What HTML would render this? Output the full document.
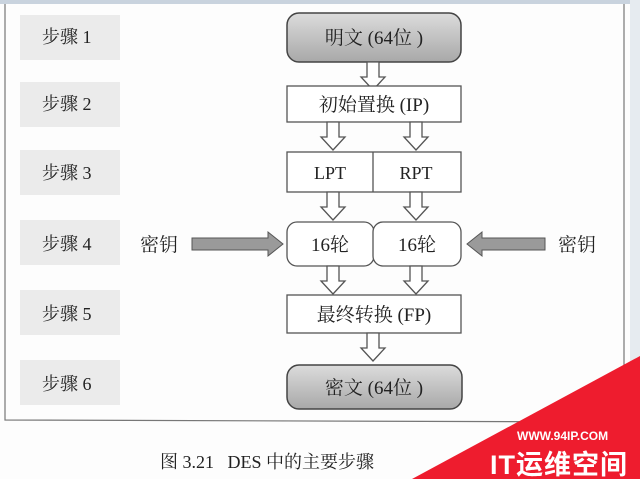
<!DOCTYPE html>
<html><head><meta charset="utf-8"><style>
body{margin:0;background:#fff;}
svg{display:block;}
text{font-family:"Liberation Serif","Noto Serif CJK SC",serif;fill:#222;}
</style></head><body>
<svg width="640" height="479" viewBox="0 0 640 479" xmlns="http://www.w3.org/2000/svg">
<defs>
<linearGradient id="g" x1="0" y1="0" x2="0" y2="1"><stop offset="0" stop-color="#dcdcdc"/><stop offset="1" stop-color="#a8a8a8"/></linearGradient>
<g id="da"><path d="M-6,0 L6,0 L6,15 L12,15 L0,28 L-12,15 L-6,15 Z" fill="#fff" stroke="#555" stroke-width="1.3"/></g>
</defs>
<rect x="0" y="0" width="640" height="479" fill="#fdfdfd"/>
<rect x="0" y="0" width="640" height="4" fill="#c9d3de"/>
<rect x="630" y="0" width="10" height="479" fill="#e6ebf0"/>
<path d="M5,4 L5,420 L624,422 L624,4" fill="none" stroke="#777" stroke-width="1.2"/>
<g fill="#ebebeb">
<rect x="20" y="15" width="100" height="45"/><rect x="20" y="82" width="100" height="45"/>
<rect x="20" y="150" width="100" height="45"/><rect x="20" y="220" width="100" height="45"/>
<rect x="20" y="290" width="100" height="45"/><rect x="20" y="360" width="100" height="45"/>
</g>
<g font-size="18">
<text x="42" y="43">步骤 1</text><text x="42" y="110">步骤 2</text><text x="42" y="179">步骤 3</text>
<text x="42" y="250">步骤 4</text><text x="42" y="320">步骤 5</text><text x="42" y="390">步骤 6</text>
</g>
<rect x="287" y="13" width="174" height="49" rx="12" fill="url(#g)" stroke="#444" stroke-width="1.5"/>
<text x="374" y="44" font-size="19" text-anchor="middle">明文 (64位 )</text>
<use href="#da" x="373" y="62"/>
<rect x="287" y="86" width="174" height="36" fill="#fff" stroke="#555" stroke-width="1.3"/>
<text x="374" y="111" font-size="19" text-anchor="middle">初始置换 (IP)</text>
<use href="#da" x="333" y="122"/><use href="#da" x="416" y="122"/>
<rect x="287" y="152" width="174" height="40" fill="#fff" stroke="#555" stroke-width="1.3"/>
<line x1="373" y1="152" x2="373" y2="192" stroke="#555" stroke-width="1.3"/>
<text x="330" y="179" font-size="18" text-anchor="middle">LPT</text>
<text x="416" y="179" font-size="18" text-anchor="middle">RPT</text>
<use href="#da" x="333" y="192"/><use href="#da" x="416" y="192"/>
<rect x="287" y="222" width="87" height="44" rx="10" fill="#fff" stroke="#555" stroke-width="1.3"/>
<rect x="373" y="222" width="88" height="44" rx="10" fill="#fff" stroke="#555" stroke-width="1.3"/>
<text x="330" y="251" font-size="19" text-anchor="middle">16轮</text>
<text x="417" y="251" font-size="19" text-anchor="middle">16轮</text>
<text x="140" y="251" font-size="19">密钥</text>
<text x="558" y="251" font-size="19">密钥</text>
<path d="M192,238 L268,238 L268,232 L283,244 L268,256 L268,250 L192,250 Z" fill="#9a9a9a" stroke="#555" stroke-width="1"/>
<path d="M545,238 L482,238 L482,232 L467,244 L482,256 L482,250 L545,250 Z" fill="#9a9a9a" stroke="#555" stroke-width="1"/>
<use href="#da" x="333" y="266"/><use href="#da" x="416" y="266"/>
<rect x="287" y="295" width="174" height="38" fill="#fff" stroke="#555" stroke-width="1.3"/>
<text x="374" y="321" font-size="19" text-anchor="middle">最终转换 (FP)</text>
<use href="#da" x="373" y="333"/>
<rect x="287" y="365" width="175" height="44" rx="12" fill="url(#g)" stroke="#444" stroke-width="1.5"/>
<text x="374" y="394" font-size="19" text-anchor="middle">密文 (64位 )</text>
<text x="160" y="468" font-size="18" xml:space="preserve">图 3.21   DES 中的主要步骤</text>
<path d="M412,479 L640,356 L640,479 Z" fill="#ee1c2e"/>
<text x="517" y="440" font-size="12" font-weight="bold" style="fill:#fff;font-family:'Liberation Sans',sans-serif">WWW.94IP.COM</text>
<text x="490" y="474" font-size="27" font-weight="bold" letter-spacing="1" style="fill:#fff;font-family:'Liberation Sans','Noto Sans CJK SC',sans-serif">IT运维空间</text>
</svg>
</body></html>
